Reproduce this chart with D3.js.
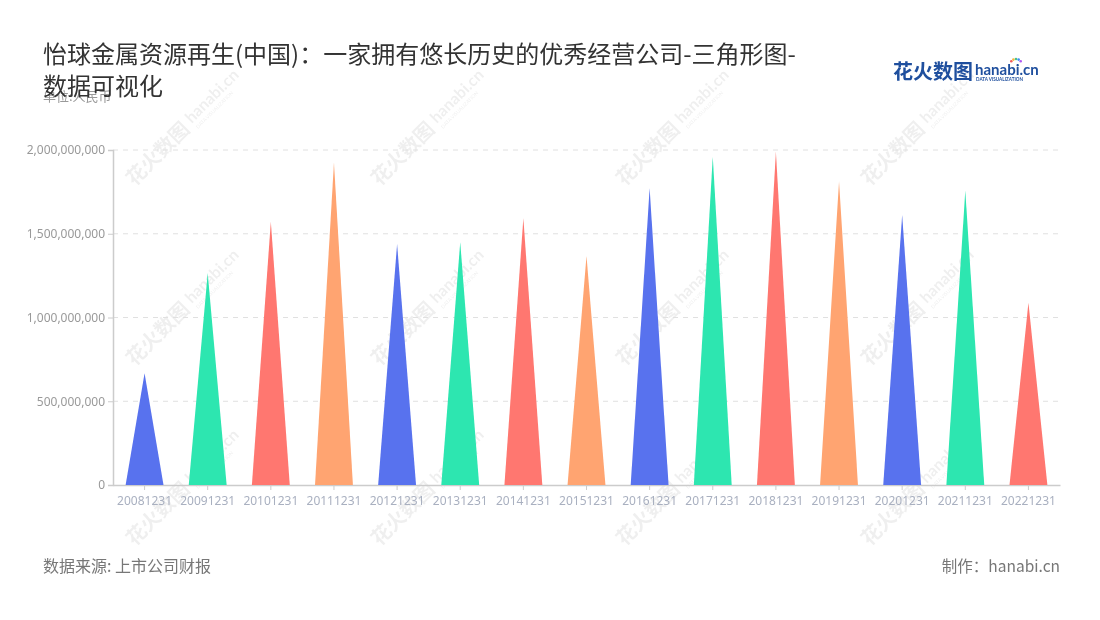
<!DOCTYPE html>
<html><head><meta charset="utf-8">
<script src="https://cdn.jsdelivr.net/npm/d3@7/dist/d3.min.js"></script>
<style>
html,body{margin:0;padding:0;background:#fff;}
svg{display:block;font-family:"Noto Sans CJK SC","Noto Sans",sans-serif;}
</style></head>
<body><svg id="c" width="1100" height="620"></svg>
<script>
const categories = ["20081231","20091231","20101231","20111231","20121231","20131231","20141231","20151231","20161231","20171231","20181231","20191231","20201231","20211231","20221231"];
const values = [667e6,1265e6,1572e6,1924e6,1439e6,1449e6,1592e6,1367e6,1771e6,1960e6,1990e6,1815e6,1612e6,1757e6,1088e6];
const palette = ["#5872ee","#2de6b0","#ff7770","#ffa471"];
const yTicks = [0,500e6,1000e6,1500e6,2000e6];
const titleLines = ["怡球金属资源再生(中国)：一家拥有悠长历史的优秀经营公司-三角形图-","数据可视化"];
const unitText = "单位:人民币";
const sourceText = "数据来源: 上市公司财报";
const makerText = "制作：hanabi.cn";

const svg = d3.select("#c");
const m = {l:113, r:1060, t:150, b:485};
const x = d3.scaleBand().domain(categories).range([m.l, m.r]).paddingInner(0).paddingOuter(0);
const y = d3.scaleLinear().domain([0,2000e6]).range([m.b, m.t]);

// watermark
const wm = svg.append("g").attr("opacity",0.065).attr("fill","#000");
const wmPos = [];
[160,340,520].forEach((yy,ri)=>{ [150,395,640,885].forEach(xx=>wmPos.push([xx,yy])); });
wmPos.forEach(p=>{
  const g = wm.append("g").attr("transform",`translate(${p[0]},${p[1]}) rotate(-45)`);
  g.append("text").attr("x",-30).attr("y",8).attr("font-size",20).attr("font-weight","bold").text("花火数图");
  g.append("text").attr("x",55).attr("y",4).attr("font-size",16).attr("font-weight","bold").attr("font-family","Lato, sans-serif").text("hanabi.cn");
  g.append("text").attr("x",56).attr("y",12).attr("font-size",5).attr("font-family","Lato, sans-serif").text("DATA VISUALIZATION");
});

// grid
svg.append("g").selectAll("line").data(yTicks.filter(d=>d>0)).join("line")
  .attr("x1",m.l).attr("x2",m.r).attr("y1",d=>y(d)).attr("y2",d=>y(d))
  .attr("stroke","#e0e0e0").attr("stroke-dasharray","5,5");

// y axis
const ya = svg.append("g").attr("transform",`translate(${m.l},0)`)
  .call(d3.axisLeft(y).tickValues(yTicks).tickSize(5).tickPadding(3).tickFormat(d3.format(",")));
ya.select(".domain").attr("stroke","#ccc").attr("stroke-width",1.5);
ya.selectAll(".tick line").attr("stroke","#ccc");
ya.selectAll("text").attr("fill","#999").attr("font-size",12).attr("font-family","'Noto Sans',sans-serif");

// x axis
const xa = svg.append("g").attr("transform",`translate(0,${m.b})`)
  .call(d3.axisBottom(x).tickSize(5).tickPadding(6).tickSizeOuter(0));
xa.select(".domain").attr("stroke","#ccc").attr("stroke-width",1.5);
xa.selectAll(".tick line").attr("stroke","#ccc");
xa.selectAll("text").attr("fill","#a9b0c0").attr("font-size",12).attr("font-family","'Noto Sans',sans-serif");

// triangles
const halfW = x.bandwidth()*0.3;
svg.append("g").selectAll("path").data(categories).join("path")
  .attr("d",(c,i)=>{
    const cx = x(c)+x.bandwidth()/2;
    return `M${cx-halfW},${y(0)}L${cx},${y(values[i])}L${cx+halfW},${y(0)}Z`;
  })
  .attr("fill",(c,i)=>palette[i%palette.length]);

// title
svg.append("text").attr("x",43).attr("y",101).attr("font-size",13).attr("fill","#999").text(unitText);
const tt = svg.append("text").attr("font-size",24).attr("fill","#333");
titleLines.forEach((t,i)=>tt.append("tspan").attr("x",43).attr("y",63+i*32).text(t));

// logo
const lg = svg.append("g").attr("fill","#1f4f9e");
lg.append("text").attr("x",893).attr("y",79).attr("font-size",20).attr("font-weight","bold").text("花火数图");
lg.append("text").attr("x",975).attr("y",75).attr("font-size",15).attr("font-weight","bold").attr("font-family","Lato, sans-serif").text("hanabi.cn");
lg.append("text").attr("x",976).attr("y",81).attr("font-size",4.6).attr("font-weight","bold").attr("font-family","Lato, sans-serif").text("DATA VISUALIZATION");
["#f25a5a","#f5b83d","#4cc38a","#3d8ff5","#b05af2"].forEach((c,i)=>{
  const a = -Math.PI/2 + (i-2)*0.45;
  svg.append("circle").attr("cx",1016+Math.cos(a)*6).attr("cy",65+Math.sin(a)*6).attr("r",1.3).attr("fill",c);
});

// footer
svg.append("text").attr("x",43).attr("y",572).attr("font-size",16).attr("fill","#777").text(sourceText);
svg.append("text").attr("x",1060).attr("y",572).attr("text-anchor","end").attr("font-size",15.5).attr("fill","#777").text(makerText);
</script>
</body></html>
